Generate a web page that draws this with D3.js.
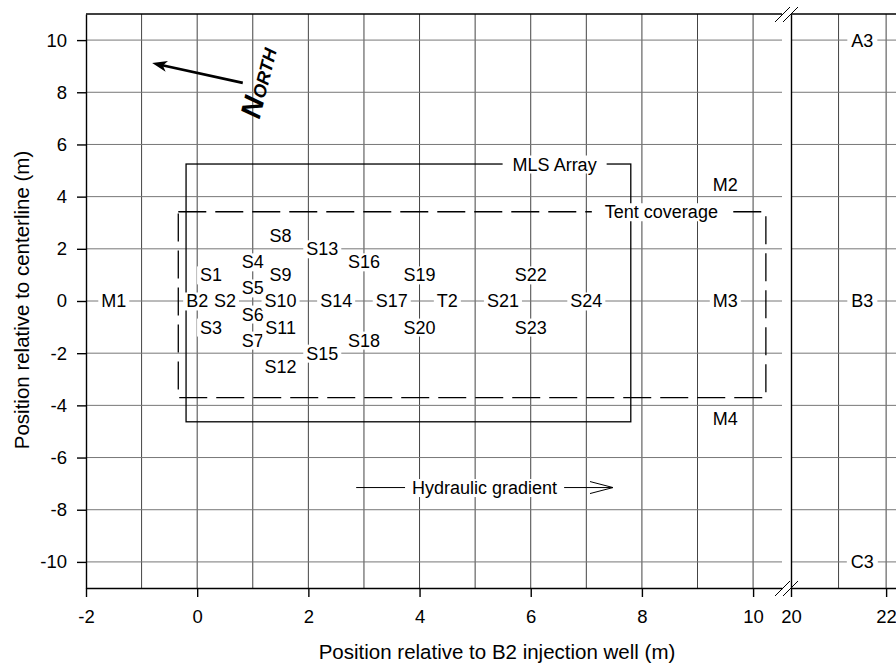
<!DOCTYPE html>
<html>
<head>
<meta charset="utf-8">
<script src="https://cdn.jsdelivr.net/npm/d3@7"></script>
<style>
  body { margin: 0; background: #fff; }
  svg { font-family: "Liberation Sans", Arial, sans-serif; }
  .axis text { font-size: 18.5px; font-family: "Liberation Sans", Arial, sans-serif; fill: #000; }
  .axis path, .axis line { stroke: #000; stroke-width: 1.4; }
  .lbl { font-size: 18px; fill: #000; }
</style>
</head>
<body>
<svg id="chart"></svg>
<script>
var xTicksLeft = [-2, 0, 2, 4, 6, 8, 10];
var xTicksRight = [20, 22];
var yTicks = [-10, -8, -6, -4, -2, 0, 2, 4, 6, 8, 10];

var stationNames = ["M1", "B2", "S1", "S2", "S3", "S4", "S5", "S6", "S7", "S8", "S9", "S10", "S11", "S12",
    "S13", "S14", "S15", "S16", "S17", "S18", "S19", "T2", "S20", "S21", "S22", "S23", "S24", "M2", "M3", "M4"];
var stationX = [-1.5, 0, 0.25, 0.5, 0.25, 1, 1, 1, 1, 1.5, 1.5, 1.5, 1.5, 1.5,
    2.25, 2.5, 2.25, 3, 3.5, 3, 4, 4.5, 4, 5.5, 6, 6, 7, 9.5, 9.5, 9.5];
var stationY = [0, 0, 1, 0, -1, 1.5, 0.5, -0.5, -1.5, 2.5, 1, 0, -1, -2.5,
    2, 0, -2, 1.5, 0, -1.5, 1, 0, -1, 0, 1, -1, 0, 4.45, 0, -4.5];

var farNames = ["A3", "B3", "C3"];
var farX = [21.5, 21.5, 21.5];
var farY = [10, 0, -10];

var mlsX = [-0.2, 7.8];
var mlsY = [-4.63, 5.25];
var tentX = [-0.34, 10.23];
var tentY = [-3.7, 3.42];
var gradX = [2.86, 7.48];
var gradY = -7.15;
var northX = [0.82, -0.81];
var northY = [8.36, 9.12];

var svg = d3.select("#chart").attr("width", 896).attr("height", 664);

var xLeft = d3.scaleLinear().domain([-2, 10.52]).range([86, 782]);
var xRight = d3.scaleLinear().domain([20, 22.25]).range([791, 898]);
var y = d3.scaleLinear().domain([-11, 11]).range([588, 14]);
var fmt = function(d) { return String(d); };

// grid
var grid = svg.append("g");
grid.selectAll(".vl")
    .data(d3.range(-1, 11))
    .enter()
    .append("line")
    .attr("x1", function(d) { return xLeft(d); })
    .attr("x2", function(d) { return xLeft(d); })
    .attr("y1", y(11))
    .attr("y2", y(-11))
    .style("stroke", "#444")
    .style("stroke-width", 1);
grid.selectAll(".vr")
    .data([21, 22])
    .enter()
    .append("line")
    .attr("x1", function(d) { return xRight(d); })
    .attr("x2", function(d) { return xRight(d); })
    .attr("y1", y(11))
    .attr("y2", y(-11))
    .style("stroke", "#444")
    .style("stroke-width", 1);
grid.selectAll(".hl")
    .data(yTicks)
    .enter()
    .append("line")
    .attr("x1", xLeft.range()[0])
    .attr("x2", xLeft.range()[1])
    .attr("y1", function(d) { return y(d); })
    .attr("y2", function(d) { return y(d); })
    .style("stroke", "#777")
    .style("stroke-width", 1);
grid.selectAll(".hr")
    .data(yTicks)
    .enter()
    .append("line")
    .attr("x1", xRight(20))
    .attr("x2", 896)
    .attr("y1", function(d) { return y(d); })
    .attr("y2", function(d) { return y(d); })
    .style("stroke", "#777")
    .style("stroke-width", 1);

// axes
svg.append("g")
    .attr("class", "axis")
    .attr("transform", "translate(0," + y(-11) + ")")
    .call(d3.axisBottom(xLeft).tickValues(xTicksLeft).tickFormat(fmt).tickSize(9).tickSizeOuter(0).tickPadding(13));
svg.append("g")
    .attr("class", "axis")
    .attr("transform", "translate(0," + y(-11) + ")")
    .call(d3.axisBottom(xRight).tickValues(xTicksRight).tickFormat(fmt).tickSize(9).tickSizeOuter(0).tickPadding(13));
svg.append("g")
    .attr("class", "axis")
    .attr("transform", "translate(" + xLeft(-2) + ",0)")
    .call(d3.axisLeft(y).tickValues(yTicks).tickFormat(fmt).tickSize(9).tickSizeOuter(0).tickPadding(10));
svg.append("g")
    .attr("class", "axis")
    .attr("transform", "translate(" + xRight(20) + ",0)")
    .call(d3.axisLeft(y).tickValues([]).tickSizeOuter(0));

svg.append("line")
    .attr("x1", xLeft.range()[0]).attr("x2", xLeft.range()[1])
    .attr("y1", y(11)).attr("y2", y(11))
    .style("stroke", "#000").style("stroke-width", 1.4);
svg.append("line")
    .attr("x1", xRight(20)).attr("x2", 896)
    .attr("y1", y(11)).attr("y2", y(11))
    .style("stroke", "#000").style("stroke-width", 1.4);

// axis breaks
[y(11), y(-11)].forEach(function(yy) {
    [0, 8].forEach(function(off) {
        svg.append("line")
            .attr("x1", 775 + off).attr("y1", yy + 8)
            .attr("x2", 790 + off).attr("y2", yy - 7)
            .style("stroke", "#000").style("stroke-width", 1);
    });
});

// MLS array and tent
svg.append("rect")
    .attr("x", xLeft(mlsX[0]))
    .attr("y", y(mlsY[1]))
    .attr("width", xLeft(mlsX[1]) - xLeft(mlsX[0]))
    .attr("height", y(mlsY[0]) - y(mlsY[1]))
    .style("fill", "none").style("stroke", "#000").style("stroke-width", 1.3);
svg.append("rect")
    .attr("x", xLeft(tentX[0]))
    .attr("y", y(tentY[1]))
    .attr("width", xLeft(tentX[1]) - xLeft(tentX[0]))
    .attr("height", y(tentY[0]) - y(tentY[1]))
    .style("fill", "none").style("stroke", "#000").style("stroke-width", 1.3)
    .style("stroke-dasharray", "28,9");

function addLabel(g, text, px, py, pad) {
    var t = g.append("text")
        .attr("class", "lbl")
        .attr("x", px)
        .attr("y", py)
        .attr("dy", "0.36em")
        .attr("text-anchor", "middle")
        .text(text);
    var b = t.node().getBBox();
    g.insert("rect", function() { return t.node(); })
        .attr("x", b.x - pad)
        .attr("y", b.y + 1)
        .attr("width", b.width + pad * 2)
        .attr("height", b.height - 2)
        .style("fill", "#fff");
    return b;
}

var labels = svg.append("g");
stationNames.forEach(function(n, i) {
    addLabel(labels.append("g"), n, xLeft(stationX[i]), y(stationY[i]), 3);
});
farNames.forEach(function(n, i) {
    addLabel(labels.append("g"), n, xRight(farX[i]), y(farY[i]), 4);
});
addLabel(labels.append("g"), "MLS Array", xLeft(6.43), y(mlsY[1]), 10);
addLabel(labels.append("g"), "Tent coverage", xLeft(8.35), y(tentY[1]), 13);

// hydraulic gradient arrow
var gx0 = xLeft(gradX[0]), gx1 = xLeft(gradX[1]), gy = y(gradY);
svg.append("line")
    .attr("x1", gx0).attr("x2", gx1).attr("y1", gy).attr("y2", gy)
    .style("stroke", "#000").style("stroke-width", 1);
svg.append("path")
    .attr("d", "M" + (gx1 - 23) + "," + (gy - 6) + "L" + gx1 + "," + gy + "L" + (gx1 - 23) + "," + (gy + 6))
    .style("fill", "none").style("stroke", "#000").style("stroke-width", 1);
addLabel(svg.append("g"), "Hydraulic gradient", (gx0 + gx1) / 2, gy, 7);

// north arrow
var nx0 = xLeft(northX[0]), ny0 = y(northY[0]), nx1 = xLeft(northX[1]), ny1 = y(northY[1]);
var ang = Math.atan2(ny1 - ny0, nx1 - nx0);
svg.append("line")
    .attr("x1", nx0).attr("y1", ny0)
    .attr("x2", nx1 - 8 * Math.cos(ang)).attr("y2", ny1 - 8 * Math.sin(ang))
    .style("stroke", "#000").style("stroke-width", 2.6);
svg.append("path")
    .attr("d", "M0,0L-15,-5.5L-11,0L-15,5.5Z")
    .attr("transform", "translate(" + nx1 + "," + ny1 + ") rotate(" + (ang * 180 / Math.PI) + ")")
    .style("fill", "#000");
var north = svg.append("text")
    .attr("transform", "translate(" + xLeft(1.12) + "," + y(6.95) + ") rotate(-76)")
    .style("font-weight", "bold")
    .style("font-style", "italic");
north.append("tspan").style("font-size", "29px").text("N");
north.append("tspan").style("font-size", "18px").text("ORTH");

// axis titles
svg.append("text")
    .attr("x", 497)
    .attr("y", 659)
    .attr("text-anchor", "middle")
    .style("font-size", "20.5px")
    .text("Position relative to B2 injection well (m)");
svg.append("text")
    .attr("transform", "translate(29,300) rotate(-90)")
    .attr("text-anchor", "middle")
    .style("font-size", "20.5px")
    .text("Position relative to centerline (m)");
</script>
</body>
</html>
